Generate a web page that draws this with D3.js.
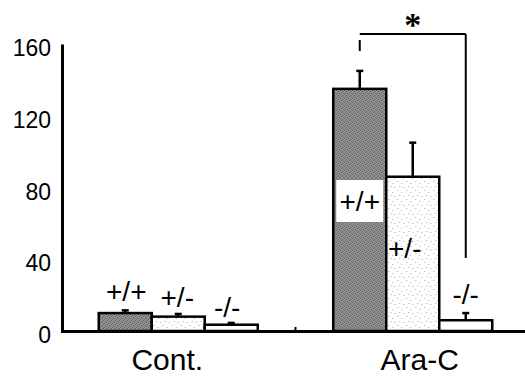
<!DOCTYPE html>
<html><head><meta charset="utf-8">
<script src="https://cdn.jsdelivr.net/npm/d3@7"></script>
<style>html,body{margin:0;padding:0;background:#fff;}svg{display:block;}</style>
</head><body>
<script>
const groups = ["Cont.", "Ara-C"];
const genotypes = ["+/+", "+/-", "-/-"];
const meanCont = [10, 8, 3.5];
const errCont = [1.5, 1.5, 1];
const meanAraC = [135, 86, 6];
const errAraC = [10, 19, 4];
const yTicks = [0, 40, 80, 120, 160];
const sigLabel = "*";

const W = 525, H = 378;
const svg = d3.select("body").append("svg").attr("width", W).attr("height", H);
const defs = svg.append("defs");
const pd = defs.append("pattern").attr("id","dark").attr("width",4).attr("height",4).attr("patternUnits","userSpaceOnUse");
pd.append("rect").attr("width",4).attr("height",4).attr("fill","#969696");
[[0,0],[2,1],[1,3],[3,2]].forEach(p=>pd.append("rect").attr("x",p[0]).attr("y",p[1]).attr("width",1).attr("height",1).attr("fill","#505050"));
const pl = defs.append("pattern").attr("id","light").attr("width",9).attr("height",9).attr("patternUnits","userSpaceOnUse");
pl.append("rect").attr("width",9).attr("height",9).attr("fill","#fff");
[[1,1],[5,3],[3,6],[7,7]].forEach(p=>pl.append("rect").attr("x",p[0]).attr("y",p[1]).attr("width",1).attr("height",1).attr("fill","#aaa"));
const fills = {"+/+":"url(#dark)","+/-":"url(#light)","-/-":"#fff"};

const data = groups.map((g,i)=>({group:g, vals: genotypes.map((k,j)=>({k, m: i===0?meanCont[j]:meanAraC[j], e: i===0?errCont[j]:errAraC[j]}))}));

const y = d3.scaleLinear().domain([0,160]).range([331,44]);
const x0 = d3.scaleBand().domain(groups).range([61,530]).paddingInner(0.322).paddingOuter(0.161);
const x1 = d3.scaleBand().domain(genotypes).range([0,x0.bandwidth()]);

// y axis
const yAxis = d3.axisLeft(y).tickValues(yTicks).tickSize(0).tickPadding(11);
const ga = svg.append("g").attr("transform","translate(62,0)").call(yAxis);
ga.select(".domain").attr("stroke","#000").attr("stroke-width",3);
ga.selectAll("text").attr("font-family","Liberation Sans, Arial, sans-serif").attr("font-size",23).attr("fill","#000").attr("dy","0.5em");

// bars
const gg = svg.selectAll("g.grp").data(data).enter().append("g").attr("class","grp")
  .attr("transform",d=>`translate(${x0(d.group)},0)`);
gg.selectAll("rect.bar").data(d=>d.vals).enter().append("rect").attr("class","bar")
  .attr("x",d=>x1(d.k)).attr("width",x1.bandwidth())
  .attr("y",d=>y(d.m)).attr("height",d=>y(0)-y(d.m))
  .attr("fill",d=>fills[d.k]).attr("stroke","#000").attr("stroke-width",2.5);
// error bars
gg.selectAll("line.err").data(d=>d.vals).enter().append("line")
  .attr("x1",d=>x1(d.k)+x1.bandwidth()/2).attr("x2",d=>x1(d.k)+x1.bandwidth()/2)
  .attr("y1",d=>y(d.m)).attr("y2",d=>y(d.m+d.e)).attr("stroke","#000").attr("stroke-width",2.5);
gg.selectAll("line.cap").data(d=>d.vals).enter().append("line")
  .attr("x1",d=>x1(d.k)+x1.bandwidth()/2-3.5).attr("x2",d=>x1(d.k)+x1.bandwidth()/2+3.5)
  .attr("y1",d=>y(d.m+d.e)).attr("y2",d=>y(d.m+d.e)).attr("stroke","#000").attr("stroke-width",2.5);

// baseline
svg.append("line").attr("x1",61).attr("x2",525).attr("y1",y(0)+0.5).attr("y2",y(0)+0.5).attr("stroke","#000").attr("stroke-width",3);
const midX = (x0("Cont.")+x0.bandwidth()+x0("Ara-C"))/2;
svg.append("line").attr("x1",midX).attr("x2",midX).attr("y1",y(0)).attr("y2",y(0)-4).attr("stroke","#000").attr("stroke-width",2);

// category labels
const catDx = [-11, 7];
svg.selectAll("text.cat").data(groups).enter().append("text")
  .attr("x",(d,i)=>x0(d)+x0.bandwidth()/2+catDx[i]).attr("y",370)
  .attr("text-anchor","middle").attr("font-family","Liberation Sans, Arial, sans-serif").attr("font-size",30).text(d=>d);

// genotype labels
const lf = "Liberation Sans, Arial, sans-serif";
const contOff = [ -9, -7, -6 ];
const contDx = [ 1, -1, -4 ];
const contG = svg.append("g").attr("transform",`translate(${x0("Cont.")},0)`);
contG.selectAll("text").data(data[0].vals).enter().append("text")
  .attr("x",(d,i)=>x1(d.k)+x1.bandwidth()/2+contDx[i]).attr("y",(d,i)=>y(d.m+d.e)+contOff[i])
  .attr("text-anchor","middle").attr("font-family",lf).attr("font-size",28).text(d=>d.k);

const araG = svg.append("g").attr("transform",`translate(${x0("Ara-C")},0)`);
const araY = [211, 258, 304];
const araDx = [0, -8, 0];
araG.append("rect").attr("x",x1("+/+")+3).attr("width",x1.bandwidth()-6).attr("y",180).attr("height",42).attr("fill","#fff");
araG.selectAll("text").data(data[1].vals).enter().append("text")
  .attr("x",(d,i)=>x1(d.k)+x1.bandwidth()/2+araDx[i]).attr("y",(d,i)=>araY[i])
  .attr("text-anchor","middle").attr("font-family",lf).attr("font-size",28).text(d=>d.k);

// significance bracket
const bxL = x0("Ara-C")+x1("+/+")+x1.bandwidth()/2;
const bxR = x0("Ara-C")+x1("-/-")+x1.bandwidth()/2;
svg.append("line").attr("x1",bxL).attr("x2",bxR).attr("y1",34).attr("y2",34).attr("stroke","#000").attr("stroke-width",2);
svg.append("line").attr("x1",bxL).attr("x2",bxL).attr("y1",40).attr("y2",51).attr("stroke","#000").attr("stroke-width",2);
svg.append("line").attr("x1",bxR).attr("x2",bxR).attr("y1",34).attr("y2",258).attr("stroke","#000").attr("stroke-width",2);
svg.append("text").attr("x",(bxL+bxR)/2).attr("y",36).attr("text-anchor","middle")
  .attr("font-family","Liberation Serif, serif").attr("font-size",34).attr("font-weight","bold").text(sigLabel);
</script>
</body></html>
